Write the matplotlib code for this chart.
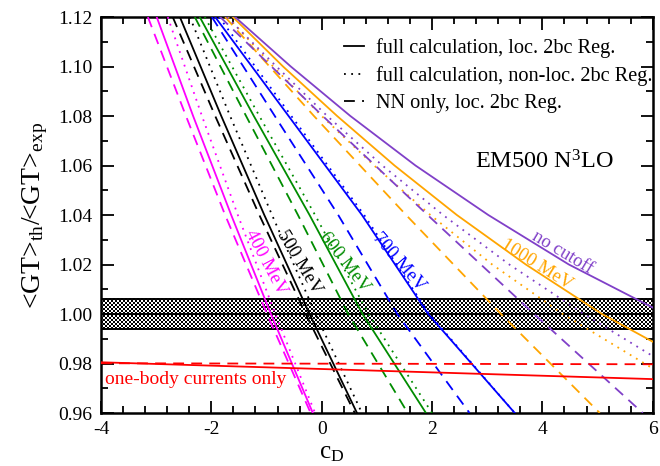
import numpy as np
import matplotlib
matplotlib.use("Agg")
from matplotlib import pyplot as plt
from matplotlib.lines import Line2D

plt.rcParams['font.family'] = ['Liberation Serif', 'DejaVu Serif']
plt.rcParams['mathtext.fontset'] = 'custom'
plt.rcParams['mathtext.rm'] = 'Liberation Serif'
plt.rcParams['mathtext.it'] = 'Liberation Serif:italic'

# ratio levels and the c_D where each curve crosses them
lev5 = [1.12, 1.08, 1.04, 1.00, 0.96]

mag_sol_c = [-2.99, -2.33, -1.64, -0.92, -0.16]
mag_dot_c = [-2.79, -2.17, -1.52, -0.84, -0.12]
mag_das_c = [-3.15, -2.46, -1.75, -0.99, -0.20]

blk_sol_c = [-2.57, -1.82, -1.04, -0.22, 0.64]
blk_dot_c = [-2.39, -1.66, -0.90, -0.11, 0.73]
blk_das_c = [-2.70, -1.93, -1.13, -0.29, 0.60]

grn_sol_c = [-2.21, -1.23, -0.22, 0.74, 1.89]
grn_dot_c = [-2.12, -1.13, -0.12, 0.85, 2.00]
grn_das_c = [-2.30, -1.37, -0.43, 0.48, 1.56]

blu_sol_c = [-1.93, -0.60, 0.73, 1.93, 3.50]
blu_dot_c = [-1.86, -0.55, 0.77, 1.95, 3.50]
blu_das_c = [-1.99, -0.85, 0.30, 1.37, 2.68]

org_das_c = [-1.75, -0.14, 1.53, 3.25, 5.04]
pur_das_c = [-1.84, 0.02, 1.92, 3.85, 5.82]

# flatter curves, read every 0.02 until they leave through the right edge
org_sol_c = [-1.61, -0.70, 0.28, 1.32, 2.45, 3.70, 5.08, 6.00]
org_sol_r = [1.12, 1.10, 1.08, 1.06, 1.04, 1.02, 1.00, 0.9888]
org_dot_c = [-1.70, -0.88, 0.00, 0.95, 1.97, 3.09, 4.37, 6.00]
org_dot_r = [1.12, 1.10, 1.08, 1.06, 1.04, 1.02, 1.00, 0.978]
pur_sol_c = [-1.57, -0.56, 0.52, 1.70, 3.02, 4.48, 6.00]
pur_sol_r = [1.12, 1.10, 1.08, 1.06, 1.04, 1.02, 1.0026]
pur_dot_c = [-1.72, -0.82, 0.10, 1.10, 2.20, 3.40, 4.75, 6.00]
pur_dot_r = [1.12, 1.10, 1.08, 1.06, 1.04, 1.02, 1.00, 0.983]

# one-body currents only
ob_c = [-4.0, 6.0]
ob_sol_r = [0.9805, 0.9737]
ob_das_r = [0.9801, 0.9797]

band_lo, band_hi = 0.9938, 1.0062

MAG, GRN, BLU, ORG, PUR = '#ff00ff', '#008c00', '#0000ff', '#ffa500', '#8040c8'

fig = plt.figure(figsize=(6.6, 4.66), dpi=100)
ax = fig.add_axes([0.153, 0.1137, 0.836, 0.8498])

# experimental band, checkered fill
nx, ny = 276, 16
checker = (np.add.outer(np.arange(ny), np.arange(nx)) % 2).astype(float)
ax.imshow(checker, extent=[-4, 6, band_lo, band_hi], cmap='gray',
          interpolation='nearest', aspect='auto', zorder=1, vmin=0, vmax=1)
for yv in (band_lo, 1.0, band_hi):
    ax.axhline(yv, color='black', lw=1.4, zorder=2)

SOL, DOT, DAS = '-', (0, (1, 3)), (0, (6, 4))
series = [
    (MAG, mag_sol_c, lev5, SOL), (MAG, mag_dot_c, lev5, DOT), (MAG, mag_das_c, lev5, DAS),
    ('black', blk_sol_c, lev5, SOL), ('black', blk_dot_c, lev5, DOT), ('black', blk_das_c, lev5, DAS),
    (GRN, grn_sol_c, lev5, SOL), (GRN, grn_dot_c, lev5, DOT), (GRN, grn_das_c, lev5, DAS),
    (BLU, blu_sol_c, lev5, SOL), (BLU, blu_dot_c, lev5, DOT), (BLU, blu_das_c, lev5, DAS),
    (ORG, org_sol_c, org_sol_r, SOL), (ORG, org_dot_c, org_dot_r, DOT), (ORG, org_das_c, lev5, DAS),
    (PUR, pur_sol_c, pur_sol_r, SOL), (PUR, pur_dot_c, pur_dot_r, DOT), (PUR, pur_das_c, lev5, DAS),
]
for col, xs, ys, ls in series:
    ax.plot(xs, ys, color=col, lw=1.3, ls=ls, zorder=3)

ax.plot(ob_c, ob_sol_r, color='red', lw=1.3, zorder=3)
ax.plot(ob_c, ob_das_r, color='red', lw=1.3, ls=DAS, zorder=3)

# labels along the curves
labels = [
    ('400 MeV', -1.02, 1.021, -62, MAG),
    ('500 MeV', -0.40, 1.021, -59, 'black'),
    ('600 MeV', 0.42, 1.021, -52, GRN),
    ('700 MeV', 1.40, 1.021, -49, BLU),
    ('1000 MeV', 3.90, 1.020, -32, ORG),
    ('no cutoff', 4.37, 1.0247, -31, PUR),
]
for txt, xc, yc, rot, col in labels:
    ax.text(xc, yc, txt, color=col, fontsize=13.5, rotation=rot,
            ha='center', va='center', rotation_mode='anchor')

ax.text(-3.93, 0.9737, 'one-body currents only', color='red', fontsize=14,
        ha='left', va='center')
ax.text(4.04, 1.0614, 'EM500 N$^3$LO', fontsize=17.5, ha='center', va='center')

handles = [Line2D([], [], color='black', lw=1.3, ls=SOL),
           Line2D([], [], color='black', lw=1.3, ls=DOT),
           Line2D([], [], color='black', lw=1.3, ls=DAS)]
ax.legend(handles, ['full calculation, loc. 2bc Reg.',
                    'full calculation, non-loc. 2bc Reg.',
                    'NN only, loc. 2bc Reg.'],
          loc='upper right', bbox_to_anchor=(1.0, 0.946), frameon=False,
          fontsize=14.6, handlelength=1.0, handletextpad=0.6, labelspacing=0.38,
          borderaxespad=0.0, borderpad=0.0)

ax.set_xlim(-4, 6)
ax.set_ylim(0.96, 1.12)
ax.set_xticks(np.arange(-4, 6.1, 2))
ax.set_xticks(np.arange(-4, 6.01, 0.4), minor=True)
ax.set_yticks(np.arange(0.96, 1.121, 0.02))
ax.set_yticks(np.arange(0.96, 1.121, 0.01), minor=True)
ax.set_xticklabels(['-4', '-2', '0', '2', '4', '6'])
ax.set_yticklabels(['%.2f' % v for v in np.arange(0.96, 1.121, 0.02)])
ax.tick_params(which='both', direction='in', top=True, right=True,
               labelsize=14, width=1.3)
ax.tick_params(which='major', length=9, pad=6)
ax.tick_params(which='minor', length=5)
for sp in ax.spines.values():
    sp.set_linewidth(1.8)

ax.set_xlabel(r'c$_{\rm D}$', fontsize=18)
ax.xaxis.set_label_coords(0.418, -0.072)
ax.set_ylabel(r'<GT>$_{\rm th}$/<GT>$_{\rm exp}$', fontsize=20, labelpad=6)

fig.savefig('out.png', dpi=100)
